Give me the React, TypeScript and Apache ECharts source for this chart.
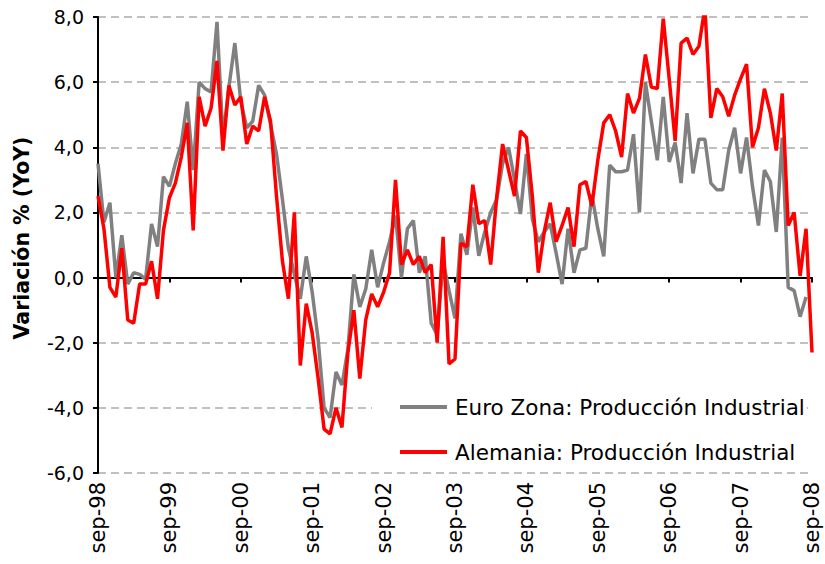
import React, { useEffect, useRef } from "react";
import * as echarts from "echarts";

const monthNames = ["sep", "oct", "nov", "dic", "ene", "feb", "mar", "abr", "may", "jun", "jul", "ago"];
const startYear = 1998;
const monthCount = 121;

const euroZona: (number | null)[] = [
  3.5, 1.7, 2.3, 0.0, 1.3, -0.2, 0.15, 0.1, -0.05, 1.65, 0.95, 3.1,
  2.8, 3.5, 4.1, 5.4, 3.3, 6.0, 5.8, 5.7, 7.85, 4.3, 5.85, 7.2,
  5.4, 4.6, 4.8, 5.9, 5.6, 4.7, 3.8, 2.4, 0.9, 0.1, -0.65, 0.65,
  -0.45, -1.9, -4.0, -4.3, -2.9, -3.3, -2.2, 0.1, -0.9, -0.35, 0.85, -0.3,
  0.45, 1.1, 1.9, 0.0, 1.5, 1.75, 0.15, 0.65, -1.4, -1.75, 0.5, -0.4,
  -1.25, 1.35, 0.7, 2.15, 0.67, 1.4, 2.0, 2.4, 3.5, 4.0, 3.0, 1.95,
  3.8, 1.8, 1.1, 1.4, 1.65, 0.75, -0.2, 1.5, 0.15, 0.85, 0.9, 2.55,
  1.5, 0.65, 3.45, 3.25, 3.25, 3.3, 4.4, 2.0, 6.0, 4.8, 3.6, 5.55,
  3.55, 4.15, 2.9, 5.05, 3.2, 4.25, 4.25, 2.9, 2.7, 2.7, 3.9, 4.6,
  3.2, 4.3, 2.8, 1.6, 3.3, 2.95, 1.4, 4.3, -0.3, -0.4, -1.2, -0.6,
  null,
];

const alemania: number[] = [
  2.5, 1.5, -0.3, -0.6, 0.9, -1.3, -1.4, -0.2, -0.2, 0.5, -0.65, 1.45,
  2.45, 2.9, 3.7, 4.75, 1.45, 5.55, 4.65, 5.2, 6.65, 3.9, 5.9, 5.3,
  5.55, 4.1, 4.65, 4.5, 5.55, 4.8, 2.5, 0.5, -0.65, 2.0, -2.7, -0.8,
  -1.7, -3.1, -4.65, -4.8, -4.0, -4.6, -2.3, -1.0, -3.1, -1.3, -0.5, -0.9,
  -0.45, 0.15, 3.0, 0.4, 0.85, 0.4, 0.65, 0.15, 0.4, -2.0, 1.25, -2.65,
  -2.5, 1.05, 0.95, 2.85, 1.65, 1.75, 0.4, 2.45, 4.1, 3.3, 2.5, 4.5,
  4.3, 2.5, 0.15, 1.4, 2.3, 1.1, 1.6, 2.15, 0.95, 2.85, 2.95, 2.2,
  3.6, 4.75, 5.0, 4.5, 3.7, 5.65, 5.05, 5.5, 6.85, 5.85, 5.8, 7.95,
  6.1, 4.2, 7.2, 7.35, 6.85, 7.1, 8.3, 4.9, 5.8, 5.55, 4.95, 5.6,
  6.1, 6.55, 4.0, 4.6, 5.8, 5.05, 3.9, 5.65, 1.6, 2.0, 0.05, 1.5,
  -2.3,
];

const seriesNames = ["Euro Zona: Producción Industrial", "Alemania: Producción Industrial"];
const yAxisTitle = "Variación % (YoY)";

const categories: string[] = [];
for (let i = 0; i < monthCount; i++) {
  const m = i % 12;
  const year = startYear + Math.floor((i + 8) / 12);
  categories.push(monthNames[m] + "-" + String(year % 100).padStart(2, "0"));
}

const FONT = "'DejaVu Sans', 'Liberation Sans', Arial, sans-serif";

export default function App() {
  const ref = useRef<HTMLDivElement>(null);
  useEffect(() => {
    if (!ref.current) return;
    const chart = echarts.init(ref.current, null, { renderer: "svg" });
    chart.setOption({
      animation: false,
      backgroundColor: "#ffffff",
      textStyle: { fontFamily: FONT },
      grid: { left: 98, right: 13, top: 17, bottom: 91, containLabel: false },
      legend: {
        orient: "vertical",
        left: 372,
        top: 388,
        padding: [8, 2, 8, 28],
        backgroundColor: "#ffffff",
        itemWidth: 47,
        itemHeight: 4,
        itemGap: 23,
        textStyle: { fontSize: 21.5, color: "#000", fontFamily: FONT, padding: [0, 0, 0, 3] },
        data: seriesNames.map((n) => ({ name: n, icon: "rect" })),
      },
      graphic: [
        {
          type: "text",
          x: 22,
          y: 238,
          rotation: Math.PI / 2,
          style: {
            text: yAxisTitle,
            fontSize: 20.5,
            fontWeight: "bold",
            fontFamily: FONT,
            fill: "#000",
            align: "center",
            verticalAlign: "middle",
          },
        },
      ],
      xAxis: [
        {
          type: "category",
          data: categories,
          boundaryGap: false,
          position: "bottom",
          axisLine: { show: false, onZero: false },
          axisTick: { show: false },
          splitLine: { show: false },
          axisLabel: {
            interval: 11,
            rotate: 90,
            margin: 9,
            fontSize: 21,
            color: "#000",
            fontFamily: FONT,
          },
        },
        {
          type: "category",
          data: categories,
          boundaryGap: false,
          position: "bottom",
          axisLine: { show: true, onZero: true, lineStyle: { color: "#000", width: 2 } },
          axisTick: { show: true, interval: 11, length: 5, lineStyle: { color: "#000", width: 2 } },
          axisLabel: { show: false },
          splitLine: { show: false },
        },
      ],
      yAxis: {
        type: "value",
        min: -6,
        max: 8,
        interval: 2,
        axisLine: { show: true, lineStyle: { color: "#000", width: 2 } },
        axisTick: { show: true, length: 5, lineStyle: { color: "#000", width: 2 } },
        axisLabel: {
          margin: 14,
          fontSize: 19,
          color: "#000",
          fontFamily: FONT,
          formatter: (v: number) => v.toFixed(1).replace(".", ","),
        },
        splitLine: { show: true, lineStyle: { color: "#c0c0c0", width: 2, type: [8, 5] } },
      },
      series: [
        {
          name: seriesNames[0],
          type: "line",
          data: euroZona,
          symbol: "none",
          clip: true,
          lineStyle: { color: "#808080", width: 3.5 },
          itemStyle: { color: "#808080" },
        },
        {
          name: seriesNames[1],
          type: "line",
          data: alemania,
          symbol: "none",
          clip: true,
          lineStyle: { color: "#ff0000", width: 3.5 },
          itemStyle: { color: "#ff0000" },
        },
      ],
    });
    return () => chart.dispose();
  }, []);
  return (
    <div
      ref={ref}
      style={{ position: "fixed", left: 0, top: 0, width: 825, height: 564 }}
    />
  );
}
